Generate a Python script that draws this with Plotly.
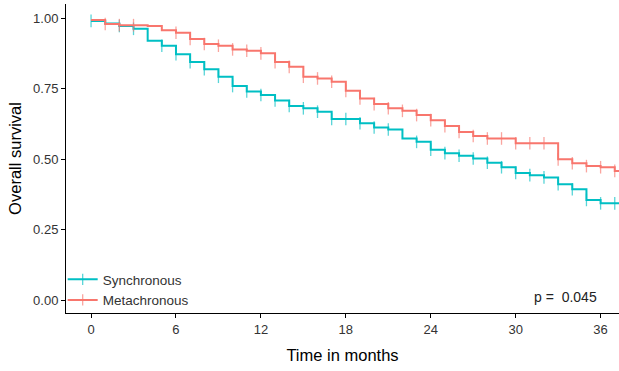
import plotly.graph_objects as go

months = list(range(0, 38))
# survival after the step at each month (t = 0..37)
sync_surv = [0.990, 0.981, 0.972, 0.962, 0.920, 0.902, 0.872, 0.844, 0.819, 0.792,
             0.759, 0.740, 0.727, 0.708, 0.688, 0.680, 0.668, 0.642, 0.642, 0.627,
             0.612, 0.605, 0.573, 0.561, 0.533, 0.521, 0.512, 0.502, 0.487, 0.471,
             0.451, 0.443, 0.435, 0.411, 0.393, 0.355, 0.343, 0.343]
meta_surv = [0.993, 0.979, 0.975, 0.975, 0.972, 0.957, 0.948, 0.926, 0.908, 0.902,
             0.889, 0.884, 0.875, 0.844, 0.827, 0.792, 0.786, 0.774, 0.742, 0.715,
             0.695, 0.680, 0.671, 0.656, 0.638, 0.617, 0.596, 0.582, 0.573, 0.573,
             0.556, 0.556, 0.556, 0.499, 0.485, 0.475, 0.471, 0.458]
sync_censor = [0, 2, 3, 5, 6, 7, 8, 9, 10, 11, 12, 13, 14, 15, 16, 17, 18, 19, 20, 21,
               23, 24, 25, 26, 27, 28, 29, 30, 31, 32, 33, 34, 35, 36, 37]
meta_censor = [1, 2, 3, 6, 7, 8, 9, 10, 11, 12, 13, 14, 15, 16, 17, 18, 19, 20, 21, 22,
               23, 24, 25, 26, 27, 28, 29, 30, 31, 32, 33, 34, 35, 36, 37]
x_end = 37.4
x_ticks = [0, 6, 12, 18, 24, 30, 36]
y_ticks = [0, 0.25, 0.5, 0.75, 1.0]
y_labels = ["0.00", "0.25", "0.50", "0.75", "1.00"]
groups = ["Synchronous", "Metachronous"]
colors = ["#00BFC4", "#F8766D"]
p_text = "p =\u00a0 0.045"

fig = go.Figure()
for name, surv, cens, col in zip(groups, [sync_surv, meta_surv],
                                 [sync_censor, meta_censor], colors):
    xs = months + [x_end]
    ys = surv + [surv[-1]]
    sizes = [9 if m in cens else 0 for m in months] + [0]
    fig.add_trace(go.Scatter(x=xs, y=ys, mode="lines+markers", line_shape="hv",
                             line=dict(color=col, width=2), name=name,
                             marker=dict(symbol="line-ns", size=sizes, color=col,
                                         opacity=0.65,
                                         line=dict(color=col, width=1.3))))

fig.add_annotation(x=33.5, y=0.01, text=p_text, showarrow=False,
                   font=dict(size=14, color="#222222", family="Liberation Sans"))

fig.update_layout(
    width=619, height=371,
    margin=dict(l=66, r=0, t=4, b=58),
    paper_bgcolor="white", plot_bgcolor="white",
    font=dict(family="Liberation Sans", size=13, color="#222222"),
    legend=dict(x=-0.006, y=-0.01, xanchor="left", yanchor="bottom",
                bgcolor="rgba(0,0,0,0)", font=dict(size=13.5, color="#333333"),
                tracegroupgap=0, itemwidth=30),
    xaxis=dict(range=[-1.77, 37.3], tickvals=x_ticks, showgrid=False, zeroline=False,
               showline=True, linecolor="black", linewidth=1, ticks="outside",
               ticklen=4, tickcolor="black", tickfont=dict(size=13, color="#333333"),
               title=dict(text="Time in months", font=dict(size=16.5, color="black"),
                          standoff=13)),
    yaxis=dict(range=[-0.046, 1.05], tickvals=y_ticks, ticktext=y_labels,
               showgrid=False, zeroline=False,
               showline=True, linecolor="black", linewidth=1, ticks="outside",
               ticklen=4, tickcolor="black", tickfont=dict(size=13, color="#333333"),
               title=dict(text="Overall survival", font=dict(size=16.5, color="black"),
                          standoff=7)),
)
fig.write_html("out.html")
